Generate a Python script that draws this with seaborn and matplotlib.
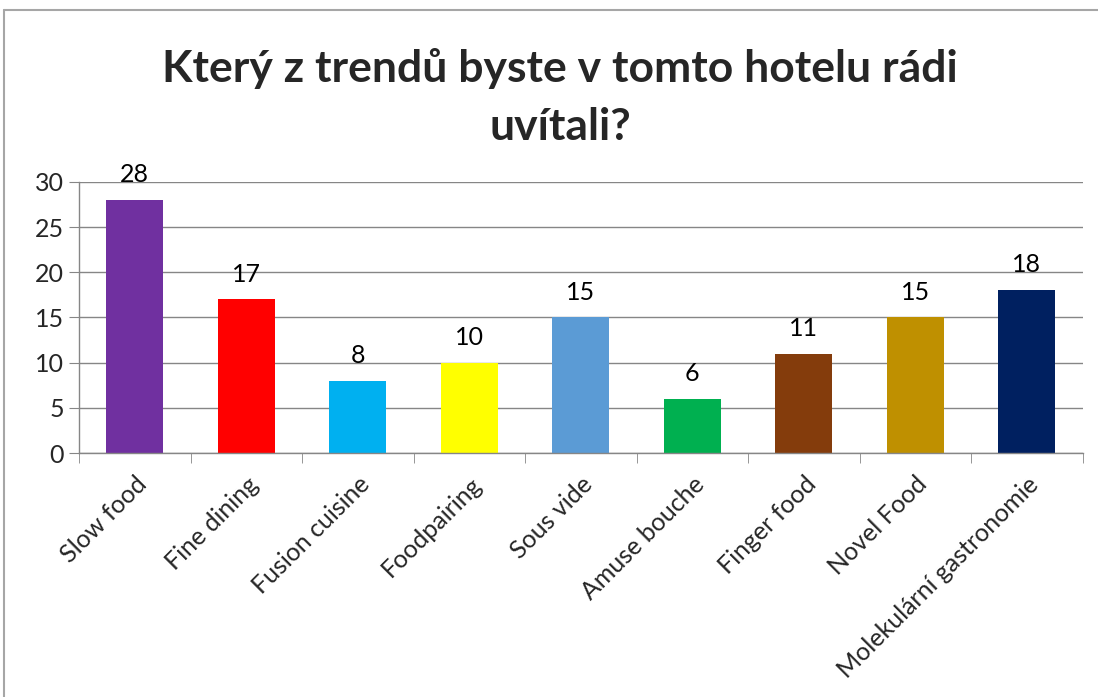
import seaborn as sns
import pandas as pd
import matplotlib.pyplot as plt
from matplotlib.lines import Line2D


TITLE = "Který z trendů byste v tomto hotelu rádi\nuvítali?"
CATEGORIES = ["Slow food", "Fine dining", "Fusion cuisine", "Foodpairing",
              "Sous vide", "Amuse bouche", "Finger food", "Novel Food",
              "Molekulární gastronomie"]
VALUES = [28, 17, 8, 10, 15, 6, 11, 15, 18]
COLORS = ["#7030A0", "#FF0000", "#00B0F0", "#FFFF00", "#5B9BD5",
          "#00B050", "#843C0C", "#BF9000", "#002060"]
Y_TICKS = [0, 5, 10, 15, 20, 25, 30]


def main():
    sns.set_style("white")
    plt.rcParams['font.family'] = ['Lato', 'DejaVu Sans']

    data = pd.DataFrame({'trend': CATEGORIES, 'count': VALUES})

    fig = plt.figure(figsize=(10.98, 6.97), dpi=100)
    ax = fig.add_axes([0.072, 0.350, 0.914, 0.389])

    sns.barplot(data=data, x='trend', y='count', hue='trend',
                palette=COLORS, width=0.51, legend=False, ax=ax,
                saturation=1, linewidth=0)

    for container in ax.containers:
        ax.bar_label(container, padding=10, fontsize=18, color='black')

    ax.set_ylim(0, 30)
    ax.set_xlim(-0.5, len(CATEGORIES) - 0.5)
    ax.set_yticks(Y_TICKS)
    ax.yaxis.grid(True, color='#868686', linewidth=1)
    ax.set_axisbelow(True)
    ax.set_xlabel("")
    ax.set_ylabel("")

    for side in ['top', 'right']:
        ax.spines[side].set_visible(False)
    for side in ['left', 'bottom']:
        ax.spines[side].set_color('#868686')
        ax.spines[side].set_linewidth(1)

    ax.tick_params(axis='y', labelsize=18, length=7, color='#868686',
                   left=True, pad=4)
    ax.set_xticks(range(len(CATEGORIES)))
    ax.set_xticklabels(CATEGORIES, rotation=45, ha='right',
                       rotation_mode='anchor', fontsize=18)
    ax.tick_params(axis='x', which='major', length=0, pad=14)
    ax.set_xticks([i - 0.5 for i in range(len(CATEGORIES) + 1)], minor=True)
    ax.tick_params(axis='x', which='minor', length=7, color='#868686',
                   bottom=True)

    fig.text(0.51, 0.86, TITLE, ha='center', va='center', fontsize=32,
             fontweight='bold', linespacing=1.55)

    # chart area border
    fig.add_artist(Line2D([4 / 1098, 4 / 1098], [0, 1 - 10 / 697],
                          transform=fig.transFigure, color='#A6A6A6', lw=1.5))
    fig.add_artist(Line2D([4 / 1098, 1], [1 - 10 / 697, 1 - 10 / 697],
                          transform=fig.transFigure, color='#A6A6A6', lw=1.5))

    plt.savefig('out.png', dpi=100)


if __name__ == '__main__':
    main()
